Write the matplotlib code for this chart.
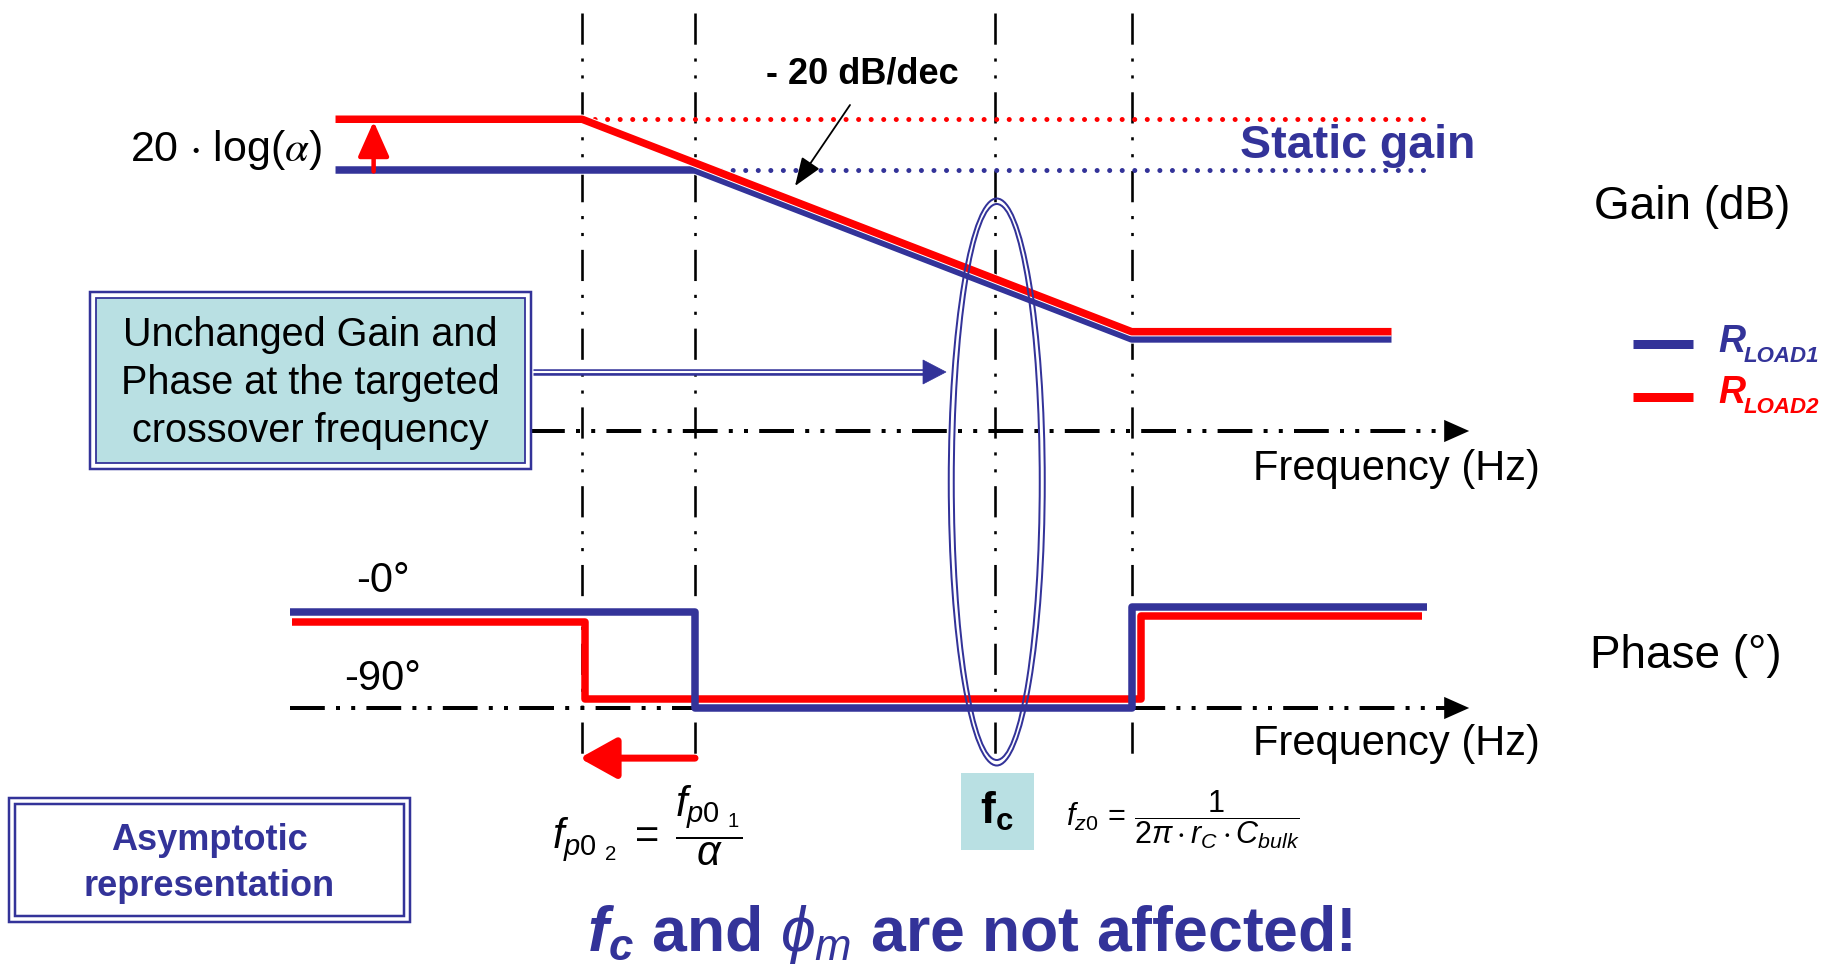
import matplotlib
matplotlib.use("Agg")
import matplotlib.pyplot as plt
import matplotlib.patches as mpatches
import matplotlib.patheffects as pe
import numpy as np

plt.rcParams["font.family"] = ["Liberation Sans", "DejaVu Sans"]
plt.rcParams["mathtext.fontset"] = "custom"
plt.rcParams["mathtext.rm"] = "Liberation Sans"
plt.rcParams["mathtext.it"] = "Liberation Sans:italic"
plt.rcParams["mathtext.bf"] = "Liberation Sans:bold"
plt.rcParams["mathtext.bfit"] = "Liberation Sans:bold:italic"
plt.rcParams["mathtext.fallback"] = "stix"

BLUE = "#333399"
RED = "#ff0000"
CYAN = "#b9e0e3"

# break frequencies (Hz)
fp01 = 1000
fp02 = 500
fc = 6300
fz0 = 14600

# asymptotic gain (dB)
gain_f_blue = [110, fp01, fz0, 72000]
gain_blue = [36, 36, 12.7, 12.7]
gain_f_red = [110, fp02, fz0, 72000]
gain_red = [43, 43, 13.7, 13.7]
static_end = 92000

# asymptotic phase (deg)
phase_f_blue = [83, 1000, 1000, 14600, 14600, 89500]
phase_blue = [0, 0, -90, -90, 5, 5]
phase_f_red = [84, 510, 510, 15500, 15500, 87000]
phase_red = [-9, -9, -82, -82, -4, -4]

freq_axis_gain = [363, 118000]
freq_axis_phase = [83, 118000]
vlines = [fp02, fp01, fc, fz0]

W, H = 1825, 975


def pt(px):
    return px * 0.72


fig = plt.figure(figsize=(W / 100, H / 100), dpi=100)
fig.patch.set_facecolor("white")

xlim = (10 ** (3 - 695 / 375), 10 ** (3 + (W - 695) / 375))

# gain axes: 0 dB at y=431 px, 7.25 px per dB
ax_g = fig.add_axes([0, 0, 1, 1])
ax_g.set_xscale("log")
ax_g.set_xlim(*xlim)
ax_g.set_ylim(-(H - 431) / 7.25, 431 / 7.25)
ax_g.axis("off")

# phase axes: 0 deg at y=612 px, 96 px per 90 deg
ax_p = fig.add_axes([0, 0, 1, 1])
ax_p.set_xscale("log")
ax_p.set_xlim(*xlim)
ppd = 96 / 90
ax_p.set_ylim(-(H - 612) / ppd, 612 / ppd)
ax_p.axis("off")

# annotation layer in pixels
ax_a = fig.add_axes([0, 0, 1, 1])
ax_a.set_xlim(0, W)
ax_a.set_ylim(H, 0)
ax_a.axis("off")

# vertical dash-dot-dot markers
for f in vlines:
    ax_g.plot([f, f], [1 - 13 / H, 1 - 760 / H], transform=ax_g.get_xaxis_transform(),
              color="black", lw=pt(2.6), dashes=(12, 5.3, 1.2, 5.3, 1.2, 5.3), zorder=1)

# frequency axes
def freq_axis(ax, fr, y):
    ax.plot([fr[0], fr[1] * 0.95], [y, y], color="black", lw=pt(4),
            dashes=(8.7, 2.8, 1, 2.8, 1, 2.8), zorder=1)
    ax.annotate("", xy=(fr[1], y), xytext=(fr[1] * 0.9, y),
                arrowprops=dict(arrowstyle="-|>,head_length=0.9,head_width=0.4",
                                color="black", lw=0, mutation_scale=20))

freq_axis(ax_g, freq_axis_gain, 0)
freq_axis(ax_p, freq_axis_phase, -90)

# static gain dotted lines
ax_g.plot([fp02, static_end], [gain_red[0]] * 2, color=RED, lw=pt(5), dashes=(0.01, 2.5),
          dash_capstyle="round", zorder=2)
ax_g.plot([fp01, static_end], [gain_blue[0]] * 2, color=BLUE, lw=pt(5), dashes=(0.01, 2.5),
          dash_capstyle="round", zorder=2)

outline = [pe.Stroke(linewidth=pt(9.5), foreground="white"), pe.Normal()]
ax_g.plot(gain_f_blue, gain_blue, color=BLUE, lw=pt(7.5), solid_capstyle="butt",
          path_effects=outline, zorder=3)
ax_g.plot(gain_f_red, gain_red, color=RED, lw=pt(7.5), solid_capstyle="butt",
          path_effects=outline, zorder=4)

# phase curves
ax_p.plot(phase_f_red, phase_red, color=RED, lw=pt(7.5), solid_capstyle="butt", zorder=3)
ax_p.plot(phase_f_blue, phase_blue, color=BLUE, lw=pt(7.5), solid_capstyle="butt", zorder=4)

# 20 log(alpha) arrow between static gains
ax_g.annotate("", xy=(139, gain_red[0] - 0.3), xytext=(139, gain_blue[0] - 0.2),
              arrowprops=dict(arrowstyle="-|>,head_length=0.9,head_width=0.4",
                              color=RED, lw=pt(4.5), mutation_scale=24, shrinkA=0, shrinkB=0))
# pole shift arrow
ax_p.annotate("", xy=(fp02 * 0.985, -137), xytext=(fp01, -137),
              arrowprops=dict(arrowstyle="-|>,head_length=0.9,head_width=0.5",
                              color=RED, lw=pt(7), mutation_scale=25, shrinkA=0, shrinkB=0))

# ellipse around fc
xc = ax_g.transData.transform((fc, 0))[0]
for w, h in [(96, 567), (86, 556)]:
    ax_a.add_patch(mpatches.Ellipse((xc + 2, 482), w, h, fill=False, ec=BLUE, lw=pt(2), zorder=6))

# hollow arrow from box
ax_a.plot([533, 925], [372, 372], color=BLUE, lw=pt(6.5), solid_capstyle="butt", zorder=5)
ax_a.plot([533, 925], [372, 372], color="white", lw=pt(2.2), solid_capstyle="butt", zorder=5)
ax_a.add_patch(mpatches.Polygon([(923, 360), (946, 372), (923, 384)], closed=True,
                                fc=BLUE, ec=BLUE, lw=0.5, zorder=5))

# boxes
ax_a.add_patch(mpatches.Rectangle((90, 292), 441, 177, fc="white", ec=BLUE, lw=pt(2.5), zorder=5))
ax_a.add_patch(mpatches.Rectangle((96, 298), 429, 165, fc=CYAN, ec=BLUE, lw=pt(1.8), zorder=5))
for txt, y in [("Unchanged Gain and", 335), ("Phase at the targeted", 383),
               ("crossover frequency", 431)]:
    ax_a.text(310, y, txt, fontsize=28.5, ha="center", va="center", zorder=7)

ax_a.add_patch(mpatches.Rectangle((9, 798), 401, 124, fc="white", ec=BLUE, lw=pt(2.5), zorder=5))
ax_a.add_patch(mpatches.Rectangle((15, 804), 389, 112, fc="white", ec=BLUE, lw=pt(2.5), zorder=5))
for txt, y in [("Asymptotic", 840), ("representation", 886)]:
    ax_a.text(209, y, txt, fontsize=26, fontweight="bold", color=BLUE, ha="center",
              va="center", zorder=7)

ax_a.add_patch(mpatches.Rectangle((961, 773), 73, 77, fc=CYAN, ec="none", zorder=5))
ax_a.text(997, 811, r"$\mathbf{f}_{\mathbf{c}}$", fontsize=32, ha="center", va="center", zorder=7)

# texts
ax_a.text(862, 74, "- 20 dB/dec", fontsize=26, fontweight="bold", ha="center", va="center")
ax_a.annotate("", xy=(795, 186), xytext=(850, 105),
              arrowprops=dict(arrowstyle="-|>,head_length=0.8,head_width=0.3",
                              color="black", lw=pt(1.8), mutation_scale=22, shrinkA=0, shrinkB=0))
ax_a.text(130, 150, r"20$\,\cdot\,$log($\alpha$)", fontsize=31, ha="left", va="center",
          math_fontfamily="stix")
ax_a.text(1240, 146, "Static gain", fontsize=33.5, fontweight="bold", color=BLUE,
          ha="left", va="center")
ax_a.text(1594, 207, "Gain (dB)", fontsize=33, ha="left", va="center")
ax_a.text(1253, 469, "Frequency (Hz)", fontsize=30, ha="left", va="center")
ax_a.text(1253, 744, "Frequency (Hz)", fontsize=30, ha="left", va="center")
ax_a.text(1590, 656, "Phase (°)", fontsize=33, ha="left", va="center")
ax_a.text(383, 581, "-0°", fontsize=30, ha="center", va="center")
ax_a.text(383, 679, "-90°", fontsize=30, ha="center", va="center")

# legend
for col, y, base, sub in [(BLUE, 344, 352, "LOAD1"), (RED, 397, 403, "LOAD2")]:
    ax_a.plot([1633, 1693], [y, y], color=col, lw=pt(9), solid_capstyle="butt")
    ax_a.text(1718, base, "R", fontsize=27, fontweight="bold", fontstyle="italic",
              color=col, ha="left", va="baseline")
    ax_a.text(1744, base + 10, sub, fontsize=16, fontweight="bold", fontstyle="italic",
              color=col, ha="left", va="baseline")

# formulas
ax_a.text(647, 826, r"$f_{p0\ _{2}}\;=\;\dfrac{f_{p0\ _{1}}}{\alpha}$", fontsize=30,
          ha="center", va="center")
ax_a.text(1183, 820, r"$f_{z0}\,=\,\dfrac{1}{2\pi \cdot r_C \cdot C_{bulk}}$", fontsize=22,
          ha="center", va="center")

ax_a.text(970, 935, r"$\mathbfit{f}_{\mathbfit{c}}$ and $\phi_{m}$ are not affected!",
          fontsize=45, fontweight="bold", color=BLUE, ha="center", va="center")

fig.savefig("out.png", dpi=100)
